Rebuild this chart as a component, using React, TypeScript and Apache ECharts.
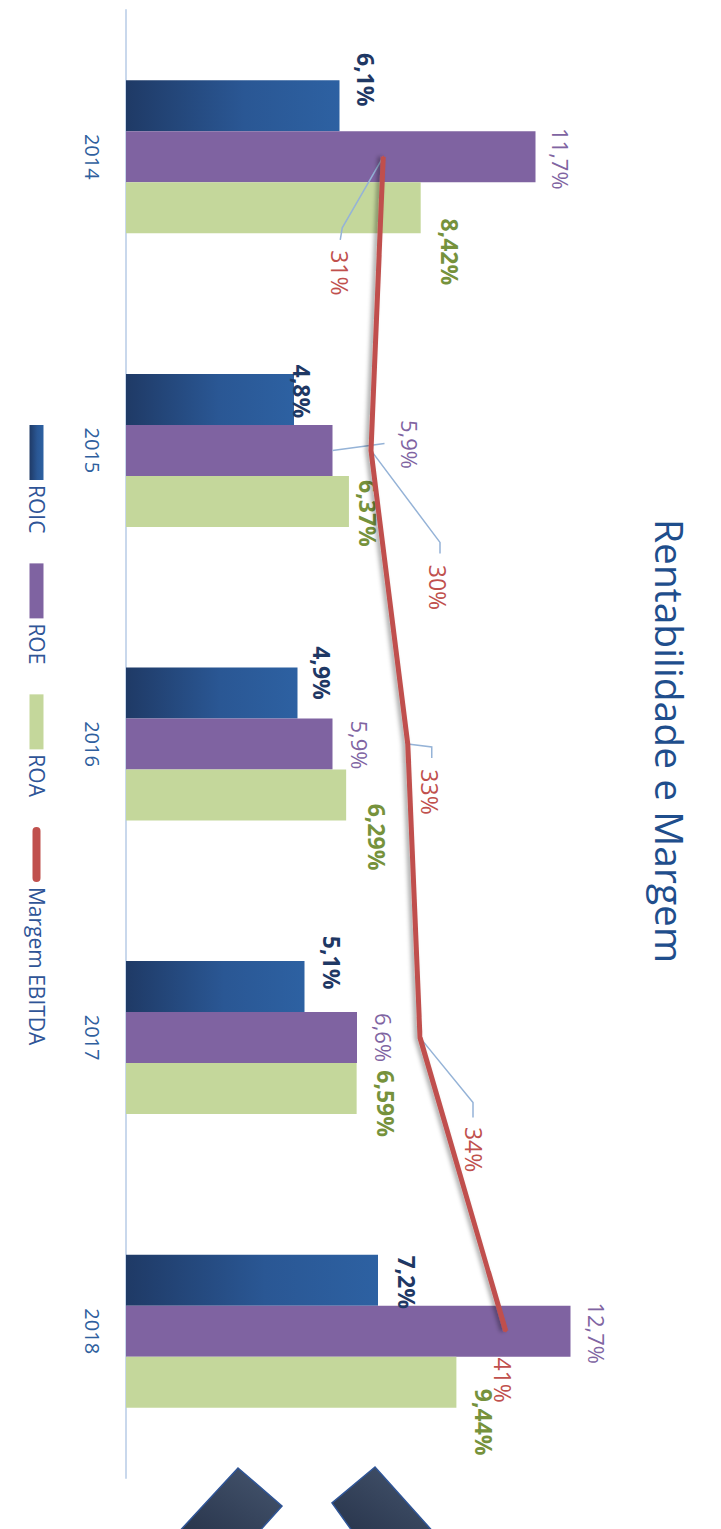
import React, { useEffect, useRef } from 'react';
import * as echarts from 'echarts';

// ---- data ----
const years = ['2014', '2015', '2016', '2017', '2018'];
const roic = [6.1, 4.8, 4.9, 5.1, 7.2];
const roe = [11.7, 5.9, 5.9, 6.6, 12.7];
const roa = [8.42, 6.37, 6.29, 6.59, 9.44];
const margemEbitda = [31, 30, 33, 34, 41];

// ---- label layout (pixel offsets in the un-rotated chart frame) ----
const roicLabelOffsets = [[-26, -26], [-8, -8], [-20, -24], [-24, -27], [2, -29]];
const roeLabelOffsets = [[2, -25], [-6, -77], [1, -27], [0, -27], [2, -26]];
const roaLabelOffsets = [[44, -29], [12, -19], [42, -31], [15, -29], [40, -28]];
const margemLabelOffsets = [[116, 43], [137, -67], [48, -22], [112, -54], [49, 3]];
const margemLeaders = [
  [[71, 41], [83, 43]],
  [[92, -69], [103, -69]],
  [[3, -24], [14, -24]],
  [[65, -53], [80, -53]],
  [],
];
const roeLeaders = [[], [[-7, -52]], [], [], []];

const W = 1529;
const H = 721;
const FONT = "'Open Sans', 'Noto Sans', sans-serif";
const fmt = (v: number) => String(v).replace('.', ',') + '%';

function leaderSeries(name: string, values: number[], leaders: number[][][], yAxisIndex: number) {
  return {
    name,
    type: 'custom',
    yAxisIndex,
    silent: true,
    z: 4,
    data: values.map((v, i) => [i, v]),
    encode: { x: 0, y: 1 },
    renderItem: (params: any, api: any) => {
      const pts = leaders[params.dataIndex];
      if (!pts || !pts.length) return { type: 'group', children: [] };
      const p = api.coord([api.value(0), api.value(1)]);
      const points = [p, ...pts.map(([du, dv]) => [p[0] + du, p[1] + dv])];
      return {
        type: 'polyline',
        shape: { points },
        style: { stroke: '#95b3d7', lineWidth: 1.5, fill: 'none' },
      };
    },
  };
}

function buildOption() {
  const barLabel = (color: string, weight: string, size: number) => ({
    show: true,
    position: 'top',
    distance: 0,
    align: 'center',
    verticalAlign: 'middle',
    formatter: (p: any) => fmt(p.value),
    fontFamily: FONT,
    fontSize: size,
    fontWeight: weight,
    color,
  });

  return {
    animation: false,
    backgroundColor: '#ffffff',
    title: {
      text: 'Rentabilidade e Margem',
      left: 736,
      top: 26,
      textAlign: 'center',
      textStyle: { fontFamily: FONT, fontSize: 39, fontWeight: 'normal', color: '#1f4e8c' },
    },
    legend: {
      left: 420,
      top: 669,
      itemWidth: 55,
      itemHeight: 14,
      itemGap: 30,
      textStyle: { fontFamily: FONT, fontSize: 21, color: '#2f5597' },
      data: [
        { name: 'ROIC', icon: 'rect' },
        { name: 'ROE', icon: 'rect' },
        { name: 'ROA', icon: 'rect' },
        { name: 'Margem EBITDA', icon: 'path://M4,0H51A4,4,0,0,1,51,8H4A4,4,0,0,1,4,0Z' },
      ],
    },
    grid: { left: 10, right: 51, top: 105, bottom: 126 },
    xAxis: {
      type: 'category',
      data: years,
      axisLine: { lineStyle: { color: '#c9d8ec', width: 2 } },
      axisTick: { show: false },
      axisLabel: { fontFamily: FONT, fontSize: 20, color: '#2f5f9e', margin: 24 },
    },
    yAxis: [
      { type: 'value', min: 0, max: 14, show: false },
      { type: 'value', min: 10, max: 50, interval: 10, show: false },
    ],
    graphic: [
      {
        type: 'polygon',
        silent: true,
        shape: { points: [[1468, 483], [1506, 439], [1535, 465], [1535, 545]] },
        style: {
          fill: new echarts.graphic.LinearGradient(0, 0, 1, 1, [
            { offset: 0, color: '#46566f' },
            { offset: 1, color: '#27334a' },
          ]),
          stroke: '#2f5597',
          lineWidth: 1.5,
        },
      },
      {
        type: 'polygon',
        silent: true,
        shape: { points: [[1467, 346], [1503, 389], [1535, 366], [1535, 285]] },
        style: {
          fill: new echarts.graphic.LinearGradient(0, 0, 1, 1, [
            { offset: 0, color: '#46566f' },
            { offset: 1, color: '#27334a' },
          ]),
          stroke: '#2f5597',
          lineWidth: 1.5,
        },
      },
    ],
    series: [
      {
        name: 'ROIC',
        type: 'bar',
        barWidth: 51,
        barGap: '0%',
        itemStyle: {
          color: new echarts.graphic.LinearGradient(0, 0, 0, 1, [
            { offset: 0, color: '#2d61a2' },
            { offset: 0.45, color: '#2a5794' },
            { offset: 1, color: '#1f3a66' },
          ]),
        },
        label: barLabel('#1f3864', 'bold', 23),
        data: roic.map((v, i) => ({ value: v, label: { offset: roicLabelOffsets[i] } })),
        z: 2,
      },
      {
        name: 'ROE',
        type: 'bar',
        barWidth: 51,
        barGap: '0%',
        itemStyle: { color: '#7f63a1' },
        label: barLabel('#8064a2', 'normal', 22),
        data: roe.map((v, i) => ({ value: v, label: { offset: roeLabelOffsets[i] } })),
        z: 2,
      },
      {
        name: 'ROA',
        type: 'bar',
        barWidth: 51,
        barGap: '0%',
        itemStyle: { color: '#c4d79b' },
        label: barLabel('#76923c', 'bold', 23),
        data: roa.map((v, i) => ({ value: v, label: { offset: roaLabelOffsets[i] } })),
        z: 2,
      },
      {
        name: 'Margem EBITDA',
        type: 'line',
        yAxisIndex: 1,
        symbol: 'circle',
        symbolSize: 2,
        itemStyle: { color: '#c0504d' },
        lineStyle: {
          color: '#c0504d',
          width: 5,
          shadowColor: 'rgba(0,0,0,0.35)',
          shadowBlur: 4,
          shadowOffsetY: 3,
        },
        label: {
          show: true,
          position: 'inside',
          align: 'center',
          verticalAlign: 'middle',
          formatter: (p: any) => fmt(p.value),
          fontFamily: FONT,
          fontSize: 23,
          color: '#c0504d',
        },
        data: margemEbitda.map((v, i) => ({ value: v, label: { offset: margemLabelOffsets[i] } })),
        z: 5,
      },
      leaderSeries('leaderMargem', margemEbitda, margemLeaders, 1),
      leaderSeries('leaderROE', roe, roeLeaders, 0),
    ],
  };
}

export default function App() {
  const ref = useRef<HTMLDivElement>(null);
  useEffect(() => {
    document.body.style.margin = '0';
    const chart = echarts.init(ref.current as HTMLDivElement, null, { renderer: 'svg', width: W, height: H });
    chart.setOption(buildOption() as any);
    return () => chart.dispose();
  }, []);
  return (
    <div
      style={{
        position: 'fixed',
        left: 0,
        top: 0,
        width: H,
        height: W,
        overflow: 'hidden',
        background: '#ffffff',
      }}
    >
      <div
        ref={ref}
        style={{
          position: 'absolute',
          left: 0,
          top: 0,
          width: W,
          height: H,
          transformOrigin: '0 0',
          transform: `translate(${H}px, 0px) rotate(90deg)`,
        }}
      />
    </div>
  );
}
